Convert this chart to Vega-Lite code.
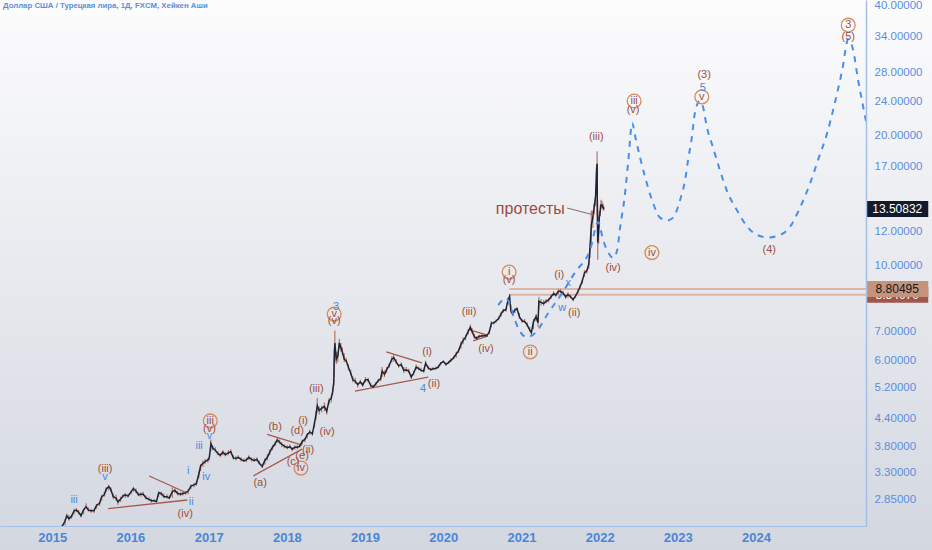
{
"$schema":"https://vega.github.io/schema/vega-lite/v6.json",
"width":866,"height":526,
"autosize":{"type":"none"},
"padding":{"left":0,"top":0,"right":66,"bottom":24},
"background":"#e9ebf0",
"config":{"view":{"stroke":null},"font":"Liberation Sans","axis":{"grid":false,"ticks":false,"title":null,"zindex":1}},
"title":{"text":"Доллар США / Турецкая лира, 1Д, FXCM, Хейкен Аши","anchor":"start","frame":"group","offset":-10,"dx":3,"fontSize":7.8,"fontWeight":"bold","color":"#5b8fd9","font":"Liberation Sans"},
"resolve":{"scale":{"color":"independent","fill":"independent"}},
"datasets":{
"candles":[
{"d":"2015-01-05","l":2.29,"h":2.35,"c":2.33},{"d":"2015-01-20","l":2.30,"h":2.36,"c":2.33},{"d":"2015-02-02","l":2.37,"h":2.46,"c":2.44},{"d":"2015-02-16","l":2.42,"h":2.50,"c":2.47},{"d":"2015-03-02","l":2.49,"h":2.57,"c":2.55},{"d":"2015-03-10","l":2.58,"h":2.65,"c":2.62},{"d":"2015-03-20","l":2.55,"h":2.63,"c":2.58},{"d":"2015-04-01","l":2.58,"h":2.64,"c":2.61},{"d":"2015-04-13","l":2.64,"h":2.72,"c":2.69},{"d":"2015-04-24","l":2.67,"h":2.73,"c":2.70},{"d":"2015-05-04","l":2.64,"h":2.70,"c":2.67},{"d":"2015-05-15","l":2.60,"h":2.66,"c":2.62},{"d":"2015-05-27","l":2.64,"h":2.72,"c":2.70},{"d":"2015-06-08","l":2.72,"h":2.80,"c":2.75},{"d":"2015-06-19","l":2.68,"h":2.74,"c":2.70},{"d":"2015-07-01","l":2.66,"h":2.72,"c":2.69},{"d":"2015-07-15","l":2.66,"h":2.72,"c":2.69},{"d":"2015-07-27","l":2.72,"h":2.79,"c":2.77},{"d":"2015-08-10","l":2.76,"h":2.82,"c":2.80},{"d":"2015-08-20","l":2.84,"h":2.93,"c":2.90},{"d":"2015-09-01","l":2.90,"h":2.98,"c":2.93},{"d":"2015-09-10","l":2.98,"h":3.05,"c":3.02},{"d":"2015-09-22","l":3.00,"h":3.09,"c":3.06},{"d":"2015-10-01","l":2.98,"h":3.05,"c":3.02},{"d":"2015-10-13","l":2.86,"h":2.95,"c":2.90},{"d":"2015-10-26","l":2.84,"h":2.93,"c":2.88},{"d":"2015-11-04","l":2.78,"h":2.86,"c":2.82},{"d":"2015-11-16","l":2.82,"h":2.90,"c":2.86},{"d":"2015-11-27","l":2.88,"h":2.94,"c":2.91},{"d":"2015-12-08","l":2.88,"h":2.96,"c":2.93},{"d":"2015-12-21","l":2.89,"h":2.95,"c":2.91},
{"d":"2016-01-05","l":2.94,"h":3.00,"c":2.98},{"d":"2016-01-15","l":2.98,"h":3.06,"c":3.03},{"d":"2016-01-27","l":2.96,"h":3.03,"c":2.99},{"d":"2016-02-08","l":2.91,"h":2.97,"c":2.93},{"d":"2016-02-19","l":2.90,"h":2.97,"c":2.94},{"d":"2016-03-01","l":2.91,"h":2.98,"c":2.94},{"d":"2016-03-14","l":2.86,"h":2.92,"c":2.88},{"d":"2016-03-28","l":2.84,"h":2.90,"c":2.86},{"d":"2016-04-08","l":2.81,"h":2.87,"c":2.84},{"d":"2016-04-20","l":2.82,"h":2.87,"c":2.84},{"d":"2016-05-02","l":2.79,"h":2.86,"c":2.83},{"d":"2016-05-12","l":2.90,"h":2.99,"c":2.96},{"d":"2016-05-24","l":2.92,"h":2.98,"c":2.95},{"d":"2016-06-06","l":2.88,"h":2.95,"c":2.90},{"d":"2016-06-20","l":2.87,"h":2.94,"c":2.90},{"d":"2016-07-01","l":2.86,"h":2.92,"c":2.88},{"d":"2016-07-15","l":2.88,"h":3.05,"c":2.98},{"d":"2016-07-27","l":2.96,"h":3.04,"c":3.00},{"d":"2016-08-09","l":2.92,"h":2.99,"c":2.95},{"d":"2016-08-22","l":2.91,"h":2.97,"c":2.94},{"d":"2016-09-02","l":2.92,"h":2.98,"c":2.95},{"d":"2016-09-15","l":2.93,"h":2.99,"c":2.96},{"d":"2016-09-27","l":2.94,"h":3.02,"c":2.99},{"d":"2016-10-10","l":3.02,"h":3.10,"c":3.07},{"d":"2016-10-24","l":3.05,"h":3.12,"c":3.09},{"d":"2016-11-04","l":3.07,"h":3.14,"c":3.11},{"d":"2016-11-16","l":3.20,"h":3.32,"c":3.28},{"d":"2016-11-24","l":3.33,"h":3.45,"c":3.42},{"d":"2016-12-05","l":3.40,"h":3.52,"c":3.47},{"d":"2016-12-15","l":3.45,"h":3.55,"c":3.50},{"d":"2016-12-28","l":3.48,"h":3.56,"c":3.53},
{"d":"2017-01-04","l":3.52,"h":3.62,"c":3.58},{"d":"2017-01-11","l":3.70,"h":3.94,"c":3.85},{"d":"2017-01-20","l":3.72,"h":3.82,"c":3.76},{"d":"2017-02-01","l":3.68,"h":3.78,"c":3.72},{"d":"2017-02-13","l":3.62,"h":3.70,"c":3.65},{"d":"2017-02-24","l":3.58,"h":3.66,"c":3.62},{"d":"2017-03-08","l":3.62,"h":3.72,"c":3.68},{"d":"2017-03-20","l":3.60,"h":3.68,"c":3.63},{"d":"2017-04-03","l":3.62,"h":3.72,"c":3.67},{"d":"2017-04-14","l":3.65,"h":3.74,"c":3.69},{"d":"2017-04-26","l":3.54,"h":3.62,"c":3.57},{"d":"2017-05-08","l":3.52,"h":3.60,"c":3.56},{"d":"2017-05-19","l":3.55,"h":3.62,"c":3.58},{"d":"2017-06-01","l":3.50,"h":3.58,"c":3.54},{"d":"2017-06-14","l":3.49,"h":3.56,"c":3.51},{"d":"2017-06-26","l":3.49,"h":3.57,"c":3.53},{"d":"2017-07-07","l":3.53,"h":3.62,"c":3.58},{"d":"2017-07-20","l":3.50,"h":3.58,"c":3.54},{"d":"2017-08-01","l":3.49,"h":3.57,"c":3.52},{"d":"2017-08-14","l":3.50,"h":3.58,"c":3.54},{"d":"2017-08-25","l":3.45,"h":3.52,"c":3.47},{"d":"2017-09-08","l":3.38,"h":3.46,"c":3.41},{"d":"2017-09-20","l":3.44,"h":3.56,"c":3.52},{"d":"2017-10-02","l":3.52,"h":3.64,"c":3.58},{"d":"2017-10-13","l":3.62,"h":3.74,"c":3.68},{"d":"2017-10-26","l":3.72,"h":3.82,"c":3.78},{"d":"2017-11-07","l":3.80,"h":3.90,"c":3.85},{"d":"2017-11-17","l":3.87,"h":3.97,"c":3.93},{"d":"2017-11-28","l":3.84,"h":3.94,"c":3.88},{"d":"2017-12-08","l":3.78,"h":3.88,"c":3.84},{"d":"2017-12-20","l":3.76,"h":3.84,"c":3.80},
{"d":"2018-01-03","l":3.74,"h":3.82,"c":3.77},{"d":"2018-01-15","l":3.76,"h":3.84,"c":3.79},{"d":"2018-01-26","l":3.70,"h":3.78,"c":3.74},{"d":"2018-02-07","l":3.73,"h":3.82,"c":3.78},{"d":"2018-02-19","l":3.74,"h":3.82,"c":3.78},{"d":"2018-03-02","l":3.77,"h":3.84,"c":3.80},{"d":"2018-03-14","l":3.84,"h":3.94,"c":3.90},{"d":"2018-03-26","l":3.88,"h":3.97,"c":3.94},{"d":"2018-04-06","l":3.96,"h":4.08,"c":4.04},{"d":"2018-04-18","l":4.04,"h":4.15,"c":4.10},{"d":"2018-04-30","l":4.02,"h":4.10,"c":4.06},{"d":"2018-05-10","l":4.20,"h":4.36,"c":4.30},{"d":"2018-05-17","l":4.38,"h":4.58,"c":4.50},{"d":"2018-05-23","l":4.55,"h":4.92,"c":4.72},{"d":"2018-06-01","l":4.50,"h":4.70,"c":4.60},{"d":"2018-06-12","l":4.55,"h":4.72,"c":4.65},{"d":"2018-06-25","l":4.58,"h":4.80,"c":4.70},{"d":"2018-07-06","l":4.50,"h":4.65,"c":4.58},{"d":"2018-07-17","l":4.75,"h":4.92,"c":4.85},{"d":"2018-07-27","l":4.80,"h":4.98,"c":4.90},{"d":"2018-08-03","l":5.00,"h":5.20,"c":5.10},{"d":"2018-08-08","l":5.25,"h":5.45,"c":5.35},{"d":"2018-08-10","l":5.50,"h":6.40,"c":6.00},{"d":"2018-08-13","l":6.00,"h":7.05,"c":6.60},{"d":"2018-08-20","l":5.90,"h":6.30,"c":6.05},{"d":"2018-08-27","l":5.95,"h":6.30,"c":6.15},{"d":"2018-09-03","l":6.40,"h":6.75,"c":6.60},{"d":"2018-09-10","l":6.30,"h":6.60,"c":6.45},{"d":"2018-09-17","l":6.20,"h":6.45,"c":6.30},{"d":"2018-09-26","l":5.95,"h":6.25,"c":6.05},{"d":"2018-10-05","l":5.95,"h":6.10,"c":6.00},{"d":"2018-10-15","l":5.70,"h":5.90,"c":5.80},{"d":"2018-10-26","l":5.55,"h":5.72,"c":5.62},{"d":"2018-11-05","l":5.35,"h":5.52,"c":5.42},{"d":"2018-11-16","l":5.30,"h":5.48,"c":5.38},{"d":"2018-11-28","l":5.20,"h":5.35,"c":5.28},{"d":"2018-12-10","l":5.30,"h":5.42,"c":5.36},{"d":"2018-12-21","l":5.22,"h":5.35,"c":5.27},
{"d":"2019-01-03","l":5.35,"h":5.50,"c":5.42},{"d":"2019-01-15","l":5.35,"h":5.48,"c":5.42},{"d":"2019-01-28","l":5.20,"h":5.32,"c":5.25},{"d":"2019-02-08","l":5.18,"h":5.28,"c":5.22},{"d":"2019-02-20","l":5.24,"h":5.35,"c":5.30},{"d":"2019-03-04","l":5.34,"h":5.45,"c":5.40},{"d":"2019-03-15","l":5.38,"h":5.50,"c":5.45},{"d":"2019-03-22","l":5.50,"h":5.80,"c":5.68},{"d":"2019-04-02","l":5.50,"h":5.70,"c":5.58},{"d":"2019-04-12","l":5.62,"h":5.80,"c":5.72},{"d":"2019-04-24","l":5.78,"h":5.92,"c":5.85},{"d":"2019-05-06","l":5.95,"h":6.15,"c":6.05},{"d":"2019-05-15","l":5.98,"h":6.22,"c":6.10},{"d":"2019-05-27","l":5.90,"h":6.05,"c":5.96},{"d":"2019-06-07","l":5.78,"h":5.90,"c":5.84},{"d":"2019-06-19","l":5.82,"h":5.95,"c":5.88},{"d":"2019-07-01","l":5.62,"h":5.80,"c":5.70},{"d":"2019-07-12","l":5.65,"h":5.80,"c":5.72},{"d":"2019-07-24","l":5.62,"h":5.75,"c":5.68},{"d":"2019-08-05","l":5.45,"h":5.58,"c":5.50},{"d":"2019-08-16","l":5.55,"h":5.68,"c":5.62},{"d":"2019-08-28","l":5.72,"h":5.88,"c":5.80},{"d":"2019-09-09","l":5.70,"h":5.82,"c":5.75},{"d":"2019-09-20","l":5.65,"h":5.78,"c":5.70},{"d":"2019-10-02","l":5.62,"h":5.75,"c":5.68},{"d":"2019-10-11","l":5.85,"h":6.00,"c":5.92},{"d":"2019-10-23","l":5.72,"h":5.85,"c":5.78},{"d":"2019-11-04","l":5.68,"h":5.78,"c":5.72},{"d":"2019-11-15","l":5.70,"h":5.80,"c":5.75},{"d":"2019-11-27","l":5.72,"h":5.82,"c":5.76},{"d":"2019-12-09","l":5.76,"h":5.86,"c":5.80},{"d":"2019-12-20","l":5.86,"h":5.96,"c":5.92},
{"d":"2020-01-02","l":5.92,"h":6.02,"c":5.98},{"d":"2020-01-14","l":5.84,"h":5.95,"c":5.88},{"d":"2020-01-27","l":5.90,"h":6.00,"c":5.95},{"d":"2020-02-07","l":5.96,"h":6.08,"c":6.02},{"d":"2020-02-19","l":6.05,"h":6.16,"c":6.10},{"d":"2020-03-02","l":6.10,"h":6.30,"c":6.22},{"d":"2020-03-13","l":6.25,"h":6.40,"c":6.33},{"d":"2020-03-24","l":6.40,"h":6.65,"c":6.55},{"d":"2020-04-03","l":6.55,"h":6.80,"c":6.68},{"d":"2020-04-15","l":6.70,"h":6.90,"c":6.82},{"d":"2020-04-27","l":6.90,"h":7.10,"c":7.02},{"d":"2020-05-07","l":7.05,"h":7.28,"c":7.18},{"d":"2020-05-15","l":6.95,"h":7.15,"c":7.02},{"d":"2020-05-26","l":6.75,"h":6.92,"c":6.82},{"d":"2020-06-05","l":6.70,"h":6.85,"c":6.76},{"d":"2020-06-17","l":6.75,"h":6.90,"c":6.84},{"d":"2020-06-29","l":6.80,"h":6.92,"c":6.85},{"d":"2020-07-10","l":6.82,"h":6.92,"c":6.86},{"d":"2020-07-22","l":6.82,"h":6.92,"c":6.86},{"d":"2020-08-03","l":6.92,"h":7.05,"c":6.98},{"d":"2020-08-13","l":7.18,"h":7.42,"c":7.33},{"d":"2020-08-25","l":7.28,"h":7.42,"c":7.35},{"d":"2020-09-04","l":7.35,"h":7.48,"c":7.42},{"d":"2020-09-16","l":7.45,"h":7.60,"c":7.52},{"d":"2020-09-28","l":7.60,"h":7.80,"c":7.72},{"d":"2020-10-08","l":7.76,"h":7.92,"c":7.85},{"d":"2020-10-20","l":7.80,"h":7.95,"c":7.88},{"d":"2020-10-30","l":8.10,"h":8.40,"c":8.32},{"d":"2020-11-06","l":8.30,"h":8.58,"c":8.46},{"d":"2020-11-12","l":7.75,"h":8.10,"c":7.85},{"d":"2020-11-20","l":7.62,"h":7.80,"c":7.70},{"d":"2020-12-01","l":7.75,"h":7.95,"c":7.88},{"d":"2020-12-11","l":7.85,"h":8.00,"c":7.92},{"d":"2020-12-22","l":7.50,"h":7.75,"c":7.60},
{"d":"2021-01-04","l":7.35,"h":7.50,"c":7.42},{"d":"2021-01-15","l":7.35,"h":7.50,"c":7.40},{"d":"2021-01-27","l":7.20,"h":7.38,"c":7.28},{"d":"2021-02-08","l":7.02,"h":7.18,"c":7.08},{"d":"2021-02-16","l":6.90,"h":7.05,"c":6.98},{"d":"2021-02-26","l":7.10,"h":7.50,"c":7.40},{"d":"2021-03-10","l":7.40,"h":7.70,"c":7.60},{"d":"2021-03-19","l":7.20,"h":7.50,"c":7.35},{"d":"2021-03-23","l":7.90,"h":8.45,"c":8.25},{"d":"2021-04-02","l":8.05,"h":8.35,"c":8.20},{"d":"2021-04-14","l":8.05,"h":8.30,"c":8.15},{"d":"2021-04-26","l":8.15,"h":8.35,"c":8.25},{"d":"2021-05-07","l":8.20,"h":8.40,"c":8.30},{"d":"2021-05-19","l":8.35,"h":8.55,"c":8.45},{"d":"2021-05-31","l":8.50,"h":8.70,"c":8.60},{"d":"2021-06-10","l":8.45,"h":8.60,"c":8.52},{"d":"2021-06-22","l":8.55,"h":8.80,"c":8.70},{"d":"2021-07-02","l":8.60,"h":8.80,"c":8.70},{"d":"2021-07-14","l":8.55,"h":8.72,"c":8.62},{"d":"2021-07-26","l":8.35,"h":8.55,"c":8.45},{"d":"2021-08-06","l":8.40,"h":8.65,"c":8.55},{"d":"2021-08-18","l":8.38,"h":8.55,"c":8.45},{"d":"2021-08-30","l":8.25,"h":8.40,"c":8.32},{"d":"2021-09-10","l":8.40,"h":8.55,"c":8.48},{"d":"2021-09-22","l":8.60,"h":8.80,"c":8.70},{"d":"2021-10-01","l":8.80,"h":9.00,"c":8.90},{"d":"2021-10-12","l":9.05,"h":9.30,"c":9.20},{"d":"2021-10-22","l":9.40,"h":9.75,"c":9.60},{"d":"2021-11-02","l":9.55,"h":9.80,"c":9.70},{"d":"2021-11-11","l":9.80,"h":10.20,"c":10.05},{"d":"2021-11-17","l":10.40,"h":11.20,"c":11.00},{"d":"2021-11-23","l":11.30,"h":13.40,"c":12.40},{"d":"2021-11-30","l":12.20,"h":13.40,"c":12.90},{"d":"2021-12-06","l":13.10,"h":13.90,"c":13.60},{"d":"2021-12-13","l":13.70,"h":15.00,"c":14.50},{"d":"2021-12-17","l":15.20,"h":17.00,"c":16.40},{"d":"2021-12-20","l":16.00,"h":18.40,"c":17.20},{"d":"2021-12-21","l":13.00,"h":17.20,"c":14.00},{"d":"2021-12-22","l":11.80,"h":14.20,"c":12.50},{"d":"2021-12-23","l":10.30,"h":12.50,"c":11.30},{"d":"2021-12-27","l":11.20,"h":12.50,"c":11.90},{"d":"2021-12-30","l":12.20,"h":13.40,"c":12.90},
{"d":"2022-01-04","l":13.00,"h":13.80,"c":13.40},{"d":"2022-01-07","l":13.50,"h":14.20,"c":13.80},{"d":"2022-01-12","l":13.60,"h":14.10,"c":13.80},{"d":"2022-01-17","l":13.40,"h":13.90,"c":13.60},{"d":"2022-01-21","l":13.40,"h":13.70,"c":13.51}
],
"proj":[
{"d":"2020-09-14","p":8.08},{"d":"2020-10-21","p":8.39},{"d":"2020-11-09","p":8.08},{"d":"2020-11-28","p":7.54},{"d":"2020-12-21","p":7.07},{"d":"2021-01-27","p":6.81},{"d":"2021-03-06","p":6.96},{"d":"2021-05-06","p":7.75},{"d":"2021-07-10","p":8.62},{"d":"2021-09-09","p":9.64},{"d":"2021-11-17","p":10.85},{"d":"2021-12-25","p":12.6},{"d":"2022-01-17","p":11.45},{"d":"2022-02-10","p":10.7},{"d":"2022-03-05","p":10.4},{"d":"2022-03-24","p":10.85},{"d":"2022-04-07","p":12.3},{"d":"2022-04-26","p":14.2},{"d":"2022-05-14","p":17.3},{"d":"2022-06-02","p":21.4},{"d":"2022-06-16","p":19.9},{"d":"2022-07-08","p":17.84},{"d":"2022-08-01","p":16.03},{"d":"2022-09-02","p":14.2},{"d":"2022-10-10","p":12.9},{"d":"2022-11-12","p":12.7},{"d":"2022-12-10","p":12.9},{"d":"2023-01-12","p":14.2},{"d":"2023-02-04","p":15.78},{"d":"2023-02-18","p":17.56},{"d":"2023-03-08","p":19.9},{"d":"2023-03-22","p":22.6},{"d":"2023-04-14","p":24.07},{"d":"2023-04-28","p":23.4},{"d":"2023-05-17","p":20.9},{"d":"2023-06-14","p":18.8},{"d":"2023-07-17","p":16.6},{"d":"2023-08-23","p":14.7},{"d":"2023-10-05","p":13.4},{"d":"2023-11-21","p":12.3},{"d":"2024-01-06","p":11.76},{"d":"2024-02-26","p":11.6},{"d":"2024-04-23","p":11.76},{"d":"2024-06-09","p":12.3},{"d":"2024-07-26","p":13.65},{"d":"2024-09-10","p":15.5},{"d":"2024-10-17","p":17.56},{"d":"2024-11-29","p":20.3},{"d":"2025-01-05","p":24.0},{"d":"2025-02-07","p":28.4},{"d":"2025-03-07","p":33.5},{"d":"2025-03-30","p":31.6},{"d":"2025-04-22","p":26.9},{"d":"2025-05-16","p":23.3},{"d":"2025-06-08","p":20.3},{"d":"2025-07-10","p":16.2}
],
"labels":[
{"d":"2015-04-13","p":2.85,"t":"iii","k":"r"},{"d":"2015-09-05","p":3.36,"t":"(iii)","k":"p"},{"d":"2015-09-05","p":3.22,"t":"v","k":"r"},{"d":"2016-09-27","p":3.33,"t":"i","k":"r"},{"d":"2016-10-11","p":2.82,"t":"ii","k":"r"},{"d":"2016-09-13","p":2.64,"t":"(iv)","k":"p"},{"d":"2016-11-17","p":3.80,"t":"iii","k":"r"},{"d":"2016-12-20","p":3.22,"t":"iv","k":"r"},{"d":"2017-01-08","p":4.35,"t":"iii","k":"c"},{"d":"2017-01-04","p":4.17,"t":"(v)","k":"p"},{"d":"2017-01-04","p":4.01,"t":"v","k":"r"},{"d":"2017-08-29","p":3.12,"t":"(a)","k":"p"},{"d":"2017-11-07","p":4.21,"t":"(b)","k":"p"},{"d":"2018-02-18","p":4.12,"t":"(d)","k":"p"},{"d":"2018-03-18","p":4.35,"t":"(i)","k":"p"},{"d":"2018-04-10","p":3.72,"t":"(ii)","k":"p"},{"d":"2018-03-13","p":3.60,"t":"(e)","k":"p"},{"d":"2018-01-30","p":3.49,"t":"(c)","k":"p"},{"d":"2018-03-08","p":3.38,"t":"iv","k":"c"},{"d":"2018-08-19","p":8.00,"t":"3","k":"n"},{"d":"2018-08-10","p":7.70,"t":"v","k":"c"},{"d":"2018-08-10","p":7.42,"t":"(v)","k":"p"},{"d":"2018-05-18","p":5.16,"t":"(iii)","k":"p"},{"d":"2018-07-08","p":4.10,"t":"(iv)","k":"p"},{"d":"2019-10-18","p":6.29,"t":"(i)","k":"p"},{"d":"2019-09-29","p":5.16,"t":"4","k":"n"},{"d":"2019-11-19","p":5.30,"t":"(ii)","k":"p"},{"d":"2020-05-01","p":7.79,"t":"(iii)","k":"p"},{"d":"2020-07-19","p":6.39,"t":"(iv)","k":"p"},{"d":"2020-11-04","p":9.64,"t":"i","k":"c"},{"d":"2020-11-04","p":9.24,"t":"(v)","k":"p"},{"d":"2021-02-11","p":6.29,"t":"ii","k":"c"},{"d":"2021-06-26","p":9.49,"t":"(i)","k":"p"},{"d":"2021-07-10","p":7.96,"t":"w","k":"r"},{"d":"2021-08-07","p":9.10,"t":"x","k":"r"},{"d":"2021-09-04","p":7.75,"t":"(ii)","k":"p"},{"d":"2021-12-16","p":19.9,"t":"(iii)","k":"p"},{"d":"2022-03-05","p":9.85,"t":"(iv)","k":"p"},{"d":"2022-09-02","p":10.7,"t":"iv","k":"c"},{"d":"2022-06-11","p":24.07,"t":"iii","k":"c"},{"d":"2022-06-06","p":22.9,"t":"(v)","k":"p"},{"d":"2023-05-04","p":27.66,"t":"(3)","k":"p"},{"d":"2023-04-28","p":25.8,"t":"5","k":"n"},{"d":"2023-04-23","p":24.6,"t":"v","k":"c"},{"d":"2024-03-03","p":10.85,"t":"(4)","k":"p"},{"d":"2025-03-07","p":36.1,"t":"3","k":"c"},{"d":"2025-03-07","p":33.9,"t":"(5)","k":"p"}
],
"trend":[
{"d1":"2015-09-19","p1":2.72,"d2":"2016-09-23","p2":2.85,"k":"t"},{"d1":"2016-03-29","p1":3.24,"d2":"2016-09-13","p2":2.97,"k":"t"},{"d1":"2017-07-28","p1":3.24,"d2":"2018-03-13","p2":3.74,"k":"t"},{"d1":"2017-10-01","p1":4.05,"d2":"2018-03-13","p2":3.82,"k":"t"},{"d1":"2019-04-10","p1":6.29,"d2":"2019-09-24","p2":5.93,"k":"t"},{"d1":"2018-11-15","p1":5.10,"d2":"2019-10-23","p2":5.50,"k":"t"},{"d1":"2020-05-06","p1":7.07,"d2":"2020-07-24","p2":6.89,"k":"t"},{"d1":"2020-05-20","p1":6.67,"d2":"2020-07-29","p2":6.85,"k":"t"},{"d1":"2021-08-02","p1":13.58,"d2":"2021-12-06","p2":13.08,"k":"lead"}
],
"levels":[{"d1":"2020-11-06","d2":"2025-07-01","p":8.80495},{"d1":"2020-11-06","d2":"2025-07-01","p":8.5407}],
"boxes":[{"p":13.50832,"t":"13.50832","k":"last"},{"p":8.5407,"t":"8.54070","k":"low"},{"p":8.80495,"t":"8.80495","k":"high"}],
"note":[{"d":"2021-02-11","p":13.51,"t":"протесты"}]
},
"layer":[
{"data":{"values":[{}]},
 "mark":{"type":"rect","clip":false,"color":{"gradient":"linear","x1":0,"y1":0,"x2":0,"y2":1,"stops":[{"offset":0,"color":"#fcfcfd"},{"offset":1,"color":"#d3d7e0"}]}},
 "encoding":{
  "x":{"datum":{"year":2014,"month":3,"date":1},"type":"temporal","title":null,"scale":{"domain":[{"year":2014,"month":5,"date":2},{"year":2025,"month":5,"date":29}]},
   "axis":{"values":[{"year":2015,"month":1,"date":1},{"year":2016,"month":1,"date":1},{"year":2017,"month":1,"date":1},{"year":2018,"month":1,"date":1},{"year":2019,"month":1,"date":1},{"year":2020,"month":1,"date":1},{"year":2021,"month":1,"date":1},{"year":2022,"month":1,"date":1},{"year":2023,"month":1,"date":1},{"year":2024,"month":1,"date":1}],"format":"%Y","title":null,"grid":false,"ticks":false,"zindex":1,"domainColor":"#a3bfe6","domainWidth":1,"labelColor":"#4a86d8","labelFont":"Liberation Sans","labelFontSize":13,"labelFontWeight":"bold","labelPadding":5,"labelFlush":false,"labelOverlap":false}},
  "x2":{"datum":{"year":2026,"month":6,"date":1}},
  "y":{"datum":41.3,"type":"quantitative","title":null,"scale":{"type":"log","domain":[2.48,41.3],"nice":false,"zero":false},
   "axis":{"orient":"right","values":[2.85,3.3,3.8,4.4,5.2,6,7,10,12,17,20,24,28,34,40],"format":".5f","title":null,"grid":false,"ticks":false,"zindex":1,"domainColor":"#a3bfe6","domainWidth":1.5,"labelColor":"#5a8fdc","labelFont":"Liberation Sans","labelFontSize":11.5,"labelPadding":8,"labelOverlap":false,"labelBound":false}},
  "y2":{"datum":2.18}}},
{"data":{"name":"levels"},"mark":{"type":"rule","clip":true,"color":"#dcb5a4","strokeWidth":2},
 "encoding":{"x":{"field":"d1","type":"temporal","title":null},"x2":{"field":"d2"},"y":{"field":"p","type":"quantitative","title":null}}},
{"data":{"name":"trend"},"transform":[{"filter":"datum.k == 't'"}],"mark":{"type":"rule","color":"#a65a4b","strokeWidth":1.3},
 "encoding":{"x":{"field":"d1","type":"temporal","title":null},"x2":{"field":"d2"},"y":{"field":"p1","type":"quantitative","title":null},"y2":{"field":"p2"}}},
{"data":{"name":"candles"},"mark":{"type":"rule","clip":true,"color":"#b0604c","strokeWidth":1.2,"opacity":0.85},
 "encoding":{"x":{"field":"d","type":"temporal","title":null},"y":{"field":"l","type":"quantitative","title":null},"y2":{"field":"h"}}},
{"data":{"name":"candles"},"mark":{"type":"line","clip":true,"color":"#1b2535","strokeWidth":1.5},
 "encoding":{"x":{"field":"d","type":"temporal","title":null},"y":{"field":"c","type":"quantitative","title":null}}},
{"data":{"name":"proj"},"mark":{"type":"line","clip":true,"color":"#4a8ee8","strokeWidth":2,"strokeDash":[6,6],"interpolate":"monotone"},
 "encoding":{"x":{"field":"d","type":"temporal","title":null},"y":{"field":"p","type":"quantitative","title":null}}},
{"data":{"name":"trend"},"transform":[{"filter":"datum.k == 'lead'"}],"mark":{"type":"rule","color":"#8a6a64","strokeWidth":1},
 "encoding":{"x":{"field":"d1","type":"temporal","title":null},"x2":{"field":"d2"},"y":{"field":"p1","type":"quantitative","title":null},"y2":{"field":"p2"}}},
{"data":{"name":"labels"},"transform":[{"filter":"datum.k == 'c'"}],"mark":{"type":"point","shape":"circle","filled":false,"size":190,"stroke":"#d98a5b","strokeWidth":1.3,"opacity":1},
 "encoding":{"x":{"field":"d","type":"temporal","title":null},"y":{"field":"p","type":"quantitative","title":null}}},
{"data":{"name":"labels"},"mark":{"type":"text","align":"center","baseline":"middle","font":"Liberation Sans"},
 "encoding":{"x":{"field":"d","type":"temporal","title":null},"y":{"field":"p","type":"quantitative","title":null},"text":{"field":"t"},
  "color":{"field":"k","type":"nominal","scale":{"domain":["p","r","c","n"],"range":["#9e4f43","#4a8be0","#9e4f43","#4a8be0"]},"legend":null},
  "size":{"field":"k","type":"nominal","scale":{"domain":["p","r","c","n"],"range":[11,11,10,14]},"legend":null}}},
{"data":{"name":"note"},"mark":{"type":"text","align":"center","baseline":"middle","font":"Liberation Sans","fontSize":16,"color":"#9e4a3e"},
 "encoding":{"x":{"field":"d","type":"temporal","title":null},"y":{"field":"p","type":"quantitative","title":null},"text":{"field":"t"}}},
{"data":{"name":"boxes"},"transform":[{"filter":"datum.k != 'high'"}],"mark":{"type":"point","shape":"M-1,-0.258L1,-0.258L1,0.258L-1,0.258Z","size":3844,"filled":true,"opacity":1,"clip":false},
 "encoding":{"x":{"datum":{"year":2025,"month":10,"date":22},"type":"temporal","title":null},"y":{"field":"p","type":"quantitative","title":null},
  "fill":{"field":"k","type":"nominal","scale":{"domain":["last","low"],"range":["#131a2b","#a0564c"]},"legend":null}}},
{"data":{"name":"boxes"},"transform":[{"filter":"datum.k != 'high'"}],"mark":{"type":"text","align":"center","baseline":"middle","font":"Liberation Sans","fontSize":12,"color":"#ffffff","clip":false},
 "encoding":{"x":{"datum":{"year":2025,"month":10,"date":22},"type":"temporal","title":null},"y":{"field":"p","type":"quantitative","title":null},"text":{"field":"t"}}},
{"data":{"name":"boxes"},"transform":[{"filter":"datum.k == 'high'"}],"mark":{"type":"point","shape":"M-1,-0.258L1,-0.258L1,0.258L-1,0.258Z","size":3844,"filled":true,"opacity":1,"clip":false,"color":"#c6927a"},
 "encoding":{"x":{"datum":{"year":2025,"month":10,"date":22},"type":"temporal","title":null},"y":{"field":"p","type":"quantitative","title":null}}},
{"data":{"name":"boxes"},"transform":[{"filter":"datum.k == 'high'"}],"mark":{"type":"text","align":"center","baseline":"middle","font":"Liberation Sans","fontSize":12,"color":"#131722","clip":false},
 "encoding":{"x":{"datum":{"year":2025,"month":10,"date":22},"type":"temporal","title":null},"y":{"field":"p","type":"quantitative","title":null},"text":{"field":"t"}}}
]
}
